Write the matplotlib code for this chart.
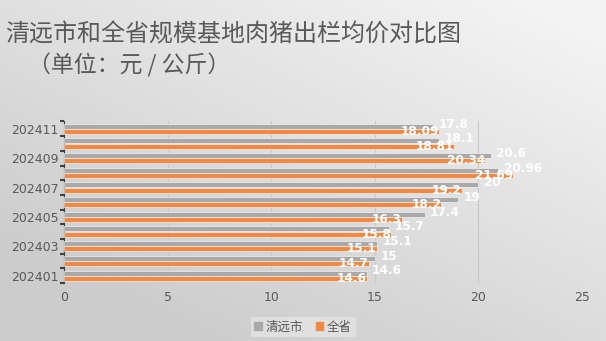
import numpy as np
import matplotlib
matplotlib.use('Agg')
import matplotlib.pyplot as plt
from matplotlib.patches import Patch

# data, bottom to top
months = ['202401', '202402', '202403', '202404', '202405', '202406',
          '202407', '202408', '202409', '202410', '202411']
qingyuan = [14.6, 15, 15.1, 15.7, 17.4, 19, 20, 20.96, 20.6, 18.1, 17.8]
province = [14.6, 14.7, 15.1, 15.8, 16.3, 18.2, 19.2, 21.69, 20.34, 18.81, 18.09]
series_names = ['清远市', '全省']

GRAY = '#a9a9a9'
ORANGE = '#ee8a46'
TEXT = '#595959'

plt.rcParams['font.family'] = ['Noto Sans CJK SC', 'DejaVu Sans']

fig = plt.figure(figsize=(6.06, 3.41), dpi=100)

# gradient background (lighter towards top right)
bg = fig.add_axes([0, 0, 1, 1], zorder=-10)
xx, yy = np.meshgrid(np.linspace(0, 1, 200), np.linspace(0, 1, 120))
shade = 0.80 + 0.15 * np.clip(0.6 * xx + 0.7 * yy - 0.2, 0, 1)
bg.imshow(shade, cmap='gray', vmin=0, vmax=1, aspect='auto', origin='lower',
          extent=[0, 1, 0, 1])
bg.axis('off')

ax = fig.add_axes([0.1056, 0.170, 0.8548, 0.4737])
ax.set_facecolor('none')

y = np.arange(len(months))
h = 0.34
b1 = ax.barh(y + 0.18, qingyuan, height=h, color=GRAY, edgecolor='white',
             linewidth=0.4, zorder=3)
b2 = ax.barh(y - 0.18, province, height=h, color=ORANGE, edgecolor='white',
             linewidth=0.4, zorder=3)

for rect, v in zip(b1, qingyuan):
    ax.annotate(f'{v:g}', (rect.get_width(), rect.get_y() + rect.get_height() / 2),
                xytext=(4, 1.5), textcoords='offset points', ha='left', va='center',
                color='white', fontsize=8.7, fontweight='bold', family='DejaVu Sans',
                zorder=5)
for rect, v in zip(b2, province):
    ax.annotate(f'{v:g}', (rect.get_width(), rect.get_y() + rect.get_height() / 2),
                xytext=(0, 0), textcoords='offset points', ha='right', va='center',
                color='white', fontsize=8.7, fontweight='bold', family='DejaVu Sans',
                zorder=5)

ax.set_xlim(0, 25)
ax.set_ylim(-0.5, len(months) - 0.5)
ax.set_xticks([0, 5, 10, 15, 20, 25])
ax.set_yticks(y[::2])
ax.set_yticklabels(months[::2])
ax.set_yticks(np.arange(-0.5, len(months), 1), minor=True)
ax.tick_params(axis='y', which='major', length=0, labelsize=9, labelcolor=TEXT, pad=4)
ax.tick_params(axis='y', which='minor', length=3, width=1.5, color='#404040')
ax.tick_params(axis='x', length=0, labelsize=9, labelcolor=TEXT, pad=6)
for lab in ax.get_xticklabels() + ax.get_yticklabels():
    lab.set_family('DejaVu Sans')

ax.grid(axis='x', color='#c8c8c8', linewidth=0.8, zorder=0)
for s in ['top', 'right', 'bottom']:
    ax.spines[s].set_visible(False)
ax.spines['left'].set_color('#404040')
ax.spines['left'].set_linewidth(0.8)

fig.text(5 / 606, 1 - 35 / 341, '清远市和全省规模基地肉猪出栏均价对比图',
         fontsize=17.3, color=TEXT, ha='left', va='center')
fig.text(28 / 606, 1 - 65 / 341, '（单位：元 / 公斤）',
         fontsize=16.5, color=TEXT, ha='left', va='center')

handles = [Patch(color=GRAY), Patch(color=ORANGE)]
leg = fig.legend(handles, series_names, loc='center', bbox_to_anchor=(0.50, 1 - 327 / 341),
                 ncol=2, frameon=True, fontsize=9, handlelength=0.6, handleheight=0.6,
                 handletextpad=0.3, columnspacing=1.0, borderpad=0.3)
leg.get_frame().set_facecolor('#e4e4e4')
leg.get_frame().set_edgecolor('none')
for t in leg.get_texts():
    t.set_color(TEXT)

fig.savefig('out.png', dpi=100)
